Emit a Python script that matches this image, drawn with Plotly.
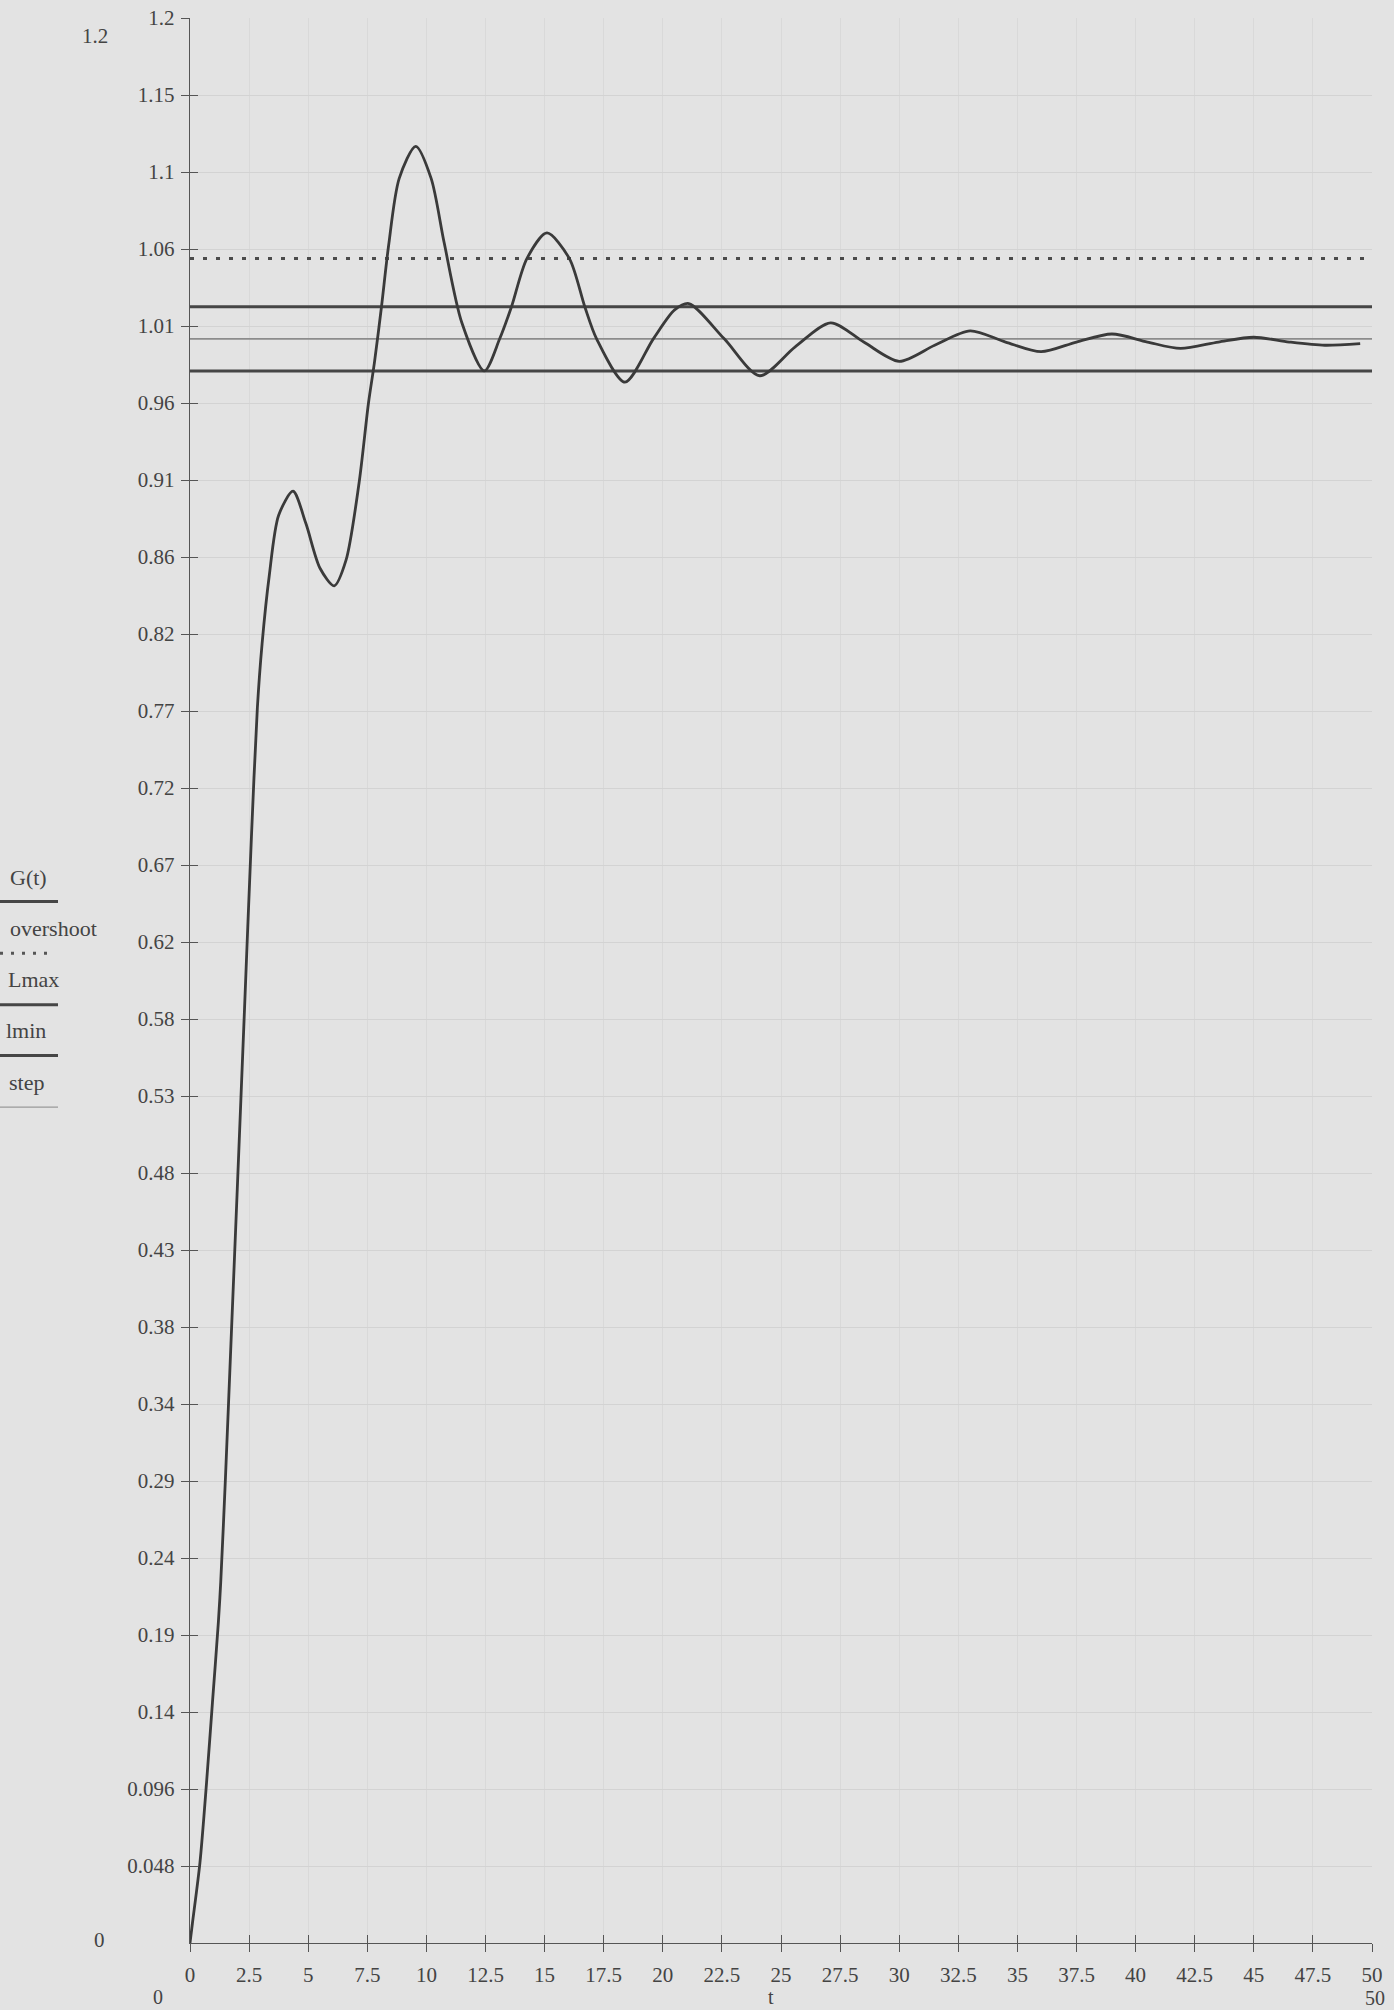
import plotly.graph_objects as go

# ---- data ----
t_G = [0, 0.1, 0.42, 0.7, 0.95, 1.2, 1.3, 1.5, 1.75, 2.0, 2.3, 2.6, 2.85, 3.05, 3.35, 3.75,
       4.36, 4.9, 5.5, 6.1, 6.6, 7.15, 7.55, 7.8, 8.1, 8.4, 8.85, 9.55, 10.2, 10.75, 11.5,
       12.45, 13.1, 13.6, 14.25, 15.1, 16.05, 16.7, 17.2, 18.4, 19.6, 20.5, 21.1,
       22.6, 24.1, 25.6, 27.1, 28.5, 30.0, 31.5, 33.0, 34.5, 36.0, 37.5, 39.0, 40.5, 41.9,
       43.5, 45.0, 46.5, 48.0, 49.5]
G = [0, 0.012, 0.05, 0.1, 0.15, 0.2, 0.225, 0.29, 0.38, 0.47, 0.58, 0.69, 0.77, 0.81, 0.852, 0.89,
     0.905, 0.885, 0.857, 0.846, 0.862, 0.91, 0.96, 0.985, 1.02, 1.058, 1.10, 1.12, 1.10, 1.06, 1.01,
     0.980, 1.0, 1.02, 1.05, 1.066, 1.05, 1.02, 1.0, 0.973, 1.0, 1.018, 1.022,
     1.0, 0.977, 0.995, 1.010, 0.998, 0.986, 0.996, 1.005, 0.998, 0.992, 0.998, 1.003, 0.998, 0.994,
     0.998, 1.001, 0.998, 0.996, 0.997]

t_span = [0, 50]
overshoot = [1.05, 1.05]
Lmax = [1.02, 1.02]
lmin = [0.98, 0.98]
step = [1.0, 1.0]

x_ticks = [0, 2.5, 5, 7.5, 10, 12.5, 15, 17.5, 20, 22.5, 25, 27.5, 30, 32.5, 35, 37.5,
           40, 42.5, 45, 47.5, 50]
x_ticktext = ["0", "2.5", "5", "7.5", "10", "12.5", "15", "17.5", "20", "22.5", "25", "27.5",
              "30", "32.5", "35", "37.5", "40", "42.5", "45", "47.5", "50"]
y_ticks = [round(0.048 * k, 4) for k in range(1, 26)]
y_ticktext = ["0.048", "0.096", "0.14", "0.19", "0.24", "0.29", "0.34", "0.38", "0.43", "0.48",
              "0.53", "0.58", "0.62", "0.67", "0.72", "0.77", "0.82", "0.86", "0.91", "0.96",
              "1.01", "1.06", "1.1", "1.15", "1.2"]

legend_names = ["G(t)", "overshoot", "Lmax", "lmin", "step"]

# ---- styling ----
BG = "#e3e3e3"
INK = "#3a3a3a"
FONT = "Liberation Serif"
W, H = 1394, 2010
L, R, T, B = 190, 22, 6, 67
PW, PH = W - L - R, H - T - B


def px(x):
    return (x - L) / PW


def py(y):
    return (H - B - y) / PH


fig = go.Figure()
fig.add_trace(go.Scatter(x=t_span, y=step, mode="lines", line=dict(color="#8c8c8c", width=1.6),
                         name="step", showlegend=False))
fig.add_trace(go.Scatter(x=t_span, y=Lmax, mode="lines", line=dict(color="#464646", width=3),
                         name="Lmax", showlegend=False))
fig.add_trace(go.Scatter(x=t_span, y=lmin, mode="lines", line=dict(color="#464646", width=3),
                         name="lmin", showlegend=False))
fig.add_trace(go.Scatter(x=t_span, y=overshoot, mode="lines",
                         line=dict(color="#4a4a4a", width=3, dash="4px,9px"),
                         name="overshoot", showlegend=False))
fig.add_trace(go.Scatter(x=t_G, y=G, mode="lines",
                         line=dict(color=INK, width=2.8, shape="spline", smoothing=0.8),
                         name="G(t)", showlegend=False))
# invisible trace on the overlay axes so they render
fig.add_trace(go.Scatter(x=[0], y=[0], xaxis="x2", yaxis="y2", mode="markers",
                         marker=dict(opacity=0), showlegend=False, hoverinfo="skip"))

axis_common = dict(showline=True, linecolor="#555555", linewidth=1.4, tickcolor="#555555",
                   tickwidth=1.2, ticklen=8, zeroline=False, ticklabeloverflow="allow",
                   tickfont=dict(family=FONT, size=21, color="#444444"))

fig.update_layout(
    width=W, height=H, margin=dict(l=L, r=R, t=T, b=B),
    paper_bgcolor=BG, plot_bgcolor=BG, showlegend=False,
    xaxis=dict(range=[0, 50], tickvals=x_ticks, ticktext=x_ticktext, ticks="outside",
               showgrid=True, gridcolor="#d9d9d9", gridwidth=1, ticklabelstandoff=5,
               **axis_common),
    yaxis=dict(range=[0, 1.2], tickvals=y_ticks, ticktext=y_ticktext, ticks="outside",
               showgrid=True, gridcolor="#d3d3d3", gridwidth=1, ticklabelstandoff=2,
               **axis_common),
    xaxis2=dict(range=[0, 50], overlaying="x", tickvals=x_ticks, ticks="inside",
                showticklabels=False, showgrid=False, ticklen=8, tickcolor="#555555",
                tickwidth=1.2, zeroline=False, showline=False),
    yaxis2=dict(range=[0, 1.2], overlaying="y", tickvals=y_ticks, ticks="inside",
                showticklabels=False, showgrid=False, ticklen=8, tickcolor="#555555",
                tickwidth=1.2, zeroline=False, showline=False),
)


def text(s, x, y, size=21):
    fig.add_annotation(text=s, x=px(x), y=py(y), xref="paper", yref="paper", showarrow=False,
                       xanchor="center", yanchor="middle",
                       font=dict(family=FONT, size=size, color="#444444"))


# axis limit labels and axis title
text("1.2", 95, 24)
text("0", 99, 1940)
text("0", 158, 1997, size=20)
text("50", 1375, 1998, size=20)
text("t", 771, 1997, size=20)

# left-hand legend (names above line samples)
leg_y = [871, 922, 973, 1025, 1077]
leg_x = [28, 53, 33, 26, 26]
for name, lx, ly in zip(legend_names, leg_x, leg_y):
    text(name, lx, ly, size=22)

sample_styles = [dict(color="#464646", width=3), dict(color="#555555", width=3, dash="3px,8px"),
                 dict(color="#464646", width=3), dict(color="#464646", width=3),
                 dict(color="#9a9a9a", width=1.3)]
sample_y = [895, 947, 999, 1050, 1102]
sample_x1 = [58, 48, 58, 58, 58]
for sy, sx1, st in zip(sample_y, sample_x1, sample_styles):
    fig.add_shape(type="line", xref="paper", yref="paper", x0=px(0), x1=px(sx1), y0=py(sy),
                  y1=py(sy), line=st)

fig.write_html(
    "out.html",
    config={"displayModeBar": False},
    post_script="document.body.style.margin='0';document.body.style.overflow='hidden';"
                "document.body.style.background='" + BG + "';",
)
